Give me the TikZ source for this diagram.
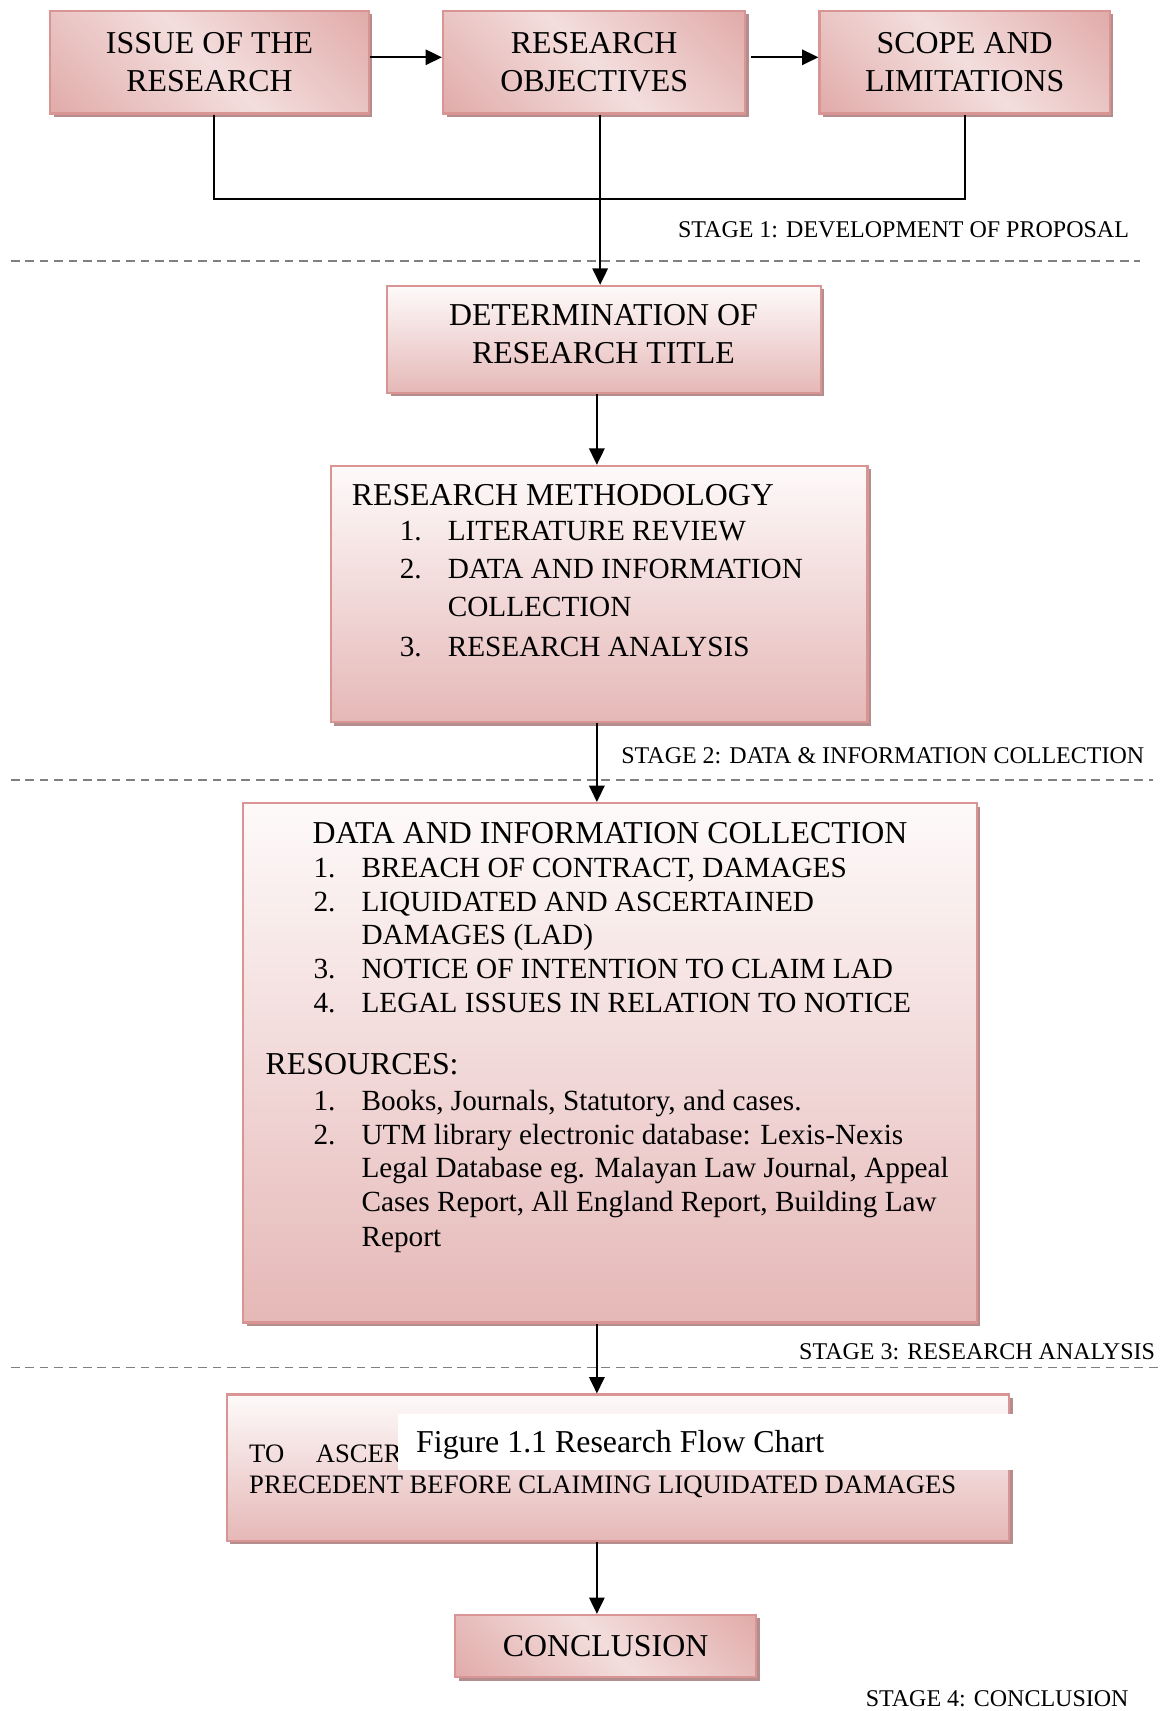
\documentclass[tikz,border=0pt]{standalone}
\usepackage{fontspec}
\setmainfont{Liberation Serif}
\usetikzlibrary{arrows.meta,shadows,calc}
\definecolor{pkborder}{RGB}{217,149,148}
\definecolor{pkdark}{RGB}{217,150,148}
\definecolor{pklight}{RGB}{243,222,221}
\definecolor{pkbottom}{RGB}{229,184,183}
\definecolor{pktop}{RGB}{254,250,250}
\definecolor{shadowc}{RGB}{180,142,142}
\definecolor{dashc}{RGB}{128,128,128}
\pgfdeclarehorizontalshading{diagpink}{100bp}{color(0bp)=(pkdark); color(50bp)=(pklight); color(100bp)=(pkdark)}
\tikzset{
 box/.style={draw=pkborder, line width=1pt, rectangle, inner sep=0pt,
   drop shadow={shadow xshift=1.6pt, shadow yshift=-1.6pt, fill=shadowc, opacity=1}},
 diagbox/.style={box, shading=diagpink, shading angle=45},
 vbox/.style={box, top color=pktop, bottom color=pkbottom},
 arr/.style={line width=1pt, -{Triangle[length=7.5pt,width=7pt]}},
 conn/.style={line width=1pt},
 stageline/.style={dashc, line width=0.7pt, dash pattern=on 4pt off 2.6pt},
 big/.style={font=\fontsize{14.6}{17.5}\selectfont, align=center},
 head/.style={font=\fontsize{14.6}{17.5}\selectfont, anchor=base west, inner sep=0pt},
 item/.style={font=\fontsize{13.4}{15.5}\selectfont, anchor=base west, inner sep=0pt},
 small/.style={font=\fontsize{12.2}{14}\selectfont, anchor=base west, inner sep=0pt},
 stagetxt/.style={font=\fontsize{11}{13}\selectfont, anchor=base west, inner sep=0pt},
}
\begin{document}
\begin{tikzpicture}[x=0.5pt,y=-0.5pt]
\useasboundingbox (0,0) rectangle (1074,1568);

% stage separators
\draw[stageline] (10,239) -- (1045,239);
\draw[stageline] (10,715) -- (1057,715);
\draw[stageline] (10,1253) -- (1065,1253);

% stage labels
\node[stagetxt] (s1) at (621,218) {STAGE 1: DEVELOPMENT OF PROPOSAL};
\node[stagetxt] (s2) at (569,700) {STAGE 2: DATA \& INFORMATION COLLECTION};
\node[stagetxt] (s3) at (732,1246) {STAGE 3: RESEARCH ANALYSIS};
\node[stagetxt] (s4) at (793,1564) {STAGE 4: CONCLUSION};

% top row
\node[diagbox, big, minimum width=146pt, minimum height=47pt] (b1) at (192,57) {ISSUE OF THE\\RESEARCH};
\node[diagbox, big, minimum width=138.5pt, minimum height=47pt] (b2) at (544.5,57) {RESEARCH\\OBJECTIVES};
\node[diagbox, big, minimum width=133pt, minimum height=47pt] (b3) at (884,57) {SCOPE AND\\LIMITATIONS};

% determination box
\node[vbox, minimum width=198.5pt, minimum height=49pt] (b4) at (553.5,311) {};
\node[big, inner sep=0pt] (t4) at (553,306) {DETERMINATION OF\\RESEARCH TITLE};

% research methodology box
\node[vbox, minimum width=246pt, minimum height=117.5pt] (b5) at (549,544.5) {};
\node[head] (t5) at (322,463) {RESEARCH METHODOLOGY};
\node[item] (n51) at (366,495) {1.};
\node[item] (i51) at (410,495) {LITERATURE REVIEW};
\node[item] (n52) at (366,530) {2.};
\node[item] (i52) at (410,530) {DATA AND INFORMATION};
\node[item] (i52b) at (410,565) {COLLECTION};
\node[item] (n53) at (366,602) {3.};
\node[item] (i53) at (410,602) {RESEARCH ANALYSIS};

% data and information collection box
\node[vbox, minimum width=336pt, minimum height=238pt] (b6) at (559,974) {};
\node[head, anchor=base] (t6) at (559,773) {DATA AND INFORMATION COLLECTION};
\node[item] (n61) at (287,804) {1.};
\node[item] (i61) at (331,804) {BREACH OF CONTRACT, DAMAGES};
\node[item] (n62) at (287,835) {2.};
\node[item] (i62) at (331,835) {LIQUIDATED AND ASCERTAINED};
\node[item] (i62b) at (331,866) {DAMAGES (LAD)};
\node[item] (n63) at (287,897) {3.};
\node[item] (i63) at (331,897) {NOTICE OF INTENTION TO CLAIM LAD};
\node[item] (n64) at (287,928) {4.};
\node[item] (i64) at (331,928) {LEGAL ISSUES IN RELATION TO NOTICE};
\node[head] (r6) at (243,985) {RESOURCES:};
\node[item] (n65) at (287,1018) {1.};
\node[item] (i65) at (331,1018) {Books, Journals, Statutory, and cases.};
\node[item] (n66) at (287,1049) {2.};
\node[item] (i66) at (331,1049) {UTM library electronic database: Lexis-Nexis};
\node[item] (i66b) at (331,1079) {Legal Database eg. Malayan Law Journal, Appeal};
\node[item] (i66c) at (331,1110) {Cases Report, All England Report, Building Law};
\node[item] (i66d) at (331,1142) {Report};

% analysis box
\node[vbox, minimum width=358.5pt, minimum height=67pt] (b7) at (566.5,1345) {};
\node[small] (t7a) at (228,1340) {TO};
\node[small] (t7b) at (289,1340) {ASCER};
\node[small] (t7c) at (228,1369) {PRECEDENT BEFORE CLAIMING LIQUIDATED DAMAGES};
\node[fill=white, inner sep=0pt, anchor=north west, minimum width=283pt, minimum height=26pt] (cap) at (364,1295) {};
\node[head] (capt) at (381,1331) {Figure 1.1 Research Flow Chart};

% conclusion
\node[diagbox, big, minimum width=138pt, minimum height=28.5pt] (b8) at (555,1508.5) {CONCLUSION};

% connectors
\coordinate (ay) at (0,52.5);
\coordinate (jy) at (0,182);
\coordinate (mx) at (550,0);
\coordinate (ax) at (547,0);
\draw[arr] (b1.east |- ay) -- (b2.west |- ay);
\draw[arr, shorten <=2pt] (b2.east |- ay) -- (b3.west |- ay);
\draw[conn] ([xshift=2pt]b1.south) |- (b3.south |- jy) -- (b3.south);
\draw[arr] (b2.south -| mx) -- (b4.north -| mx);
\draw[arr] (b4.south -| ax) -- (b5.north -| ax);
\draw[arr] (b5.south -| ax) -- (b6.north -| ax);
\draw[arr] (b6.south -| ax) -- (b7.north -| ax);
\draw[arr] (b7.south -| ax) -- (b8.north -| ax);
\end{tikzpicture}
\end{document}
